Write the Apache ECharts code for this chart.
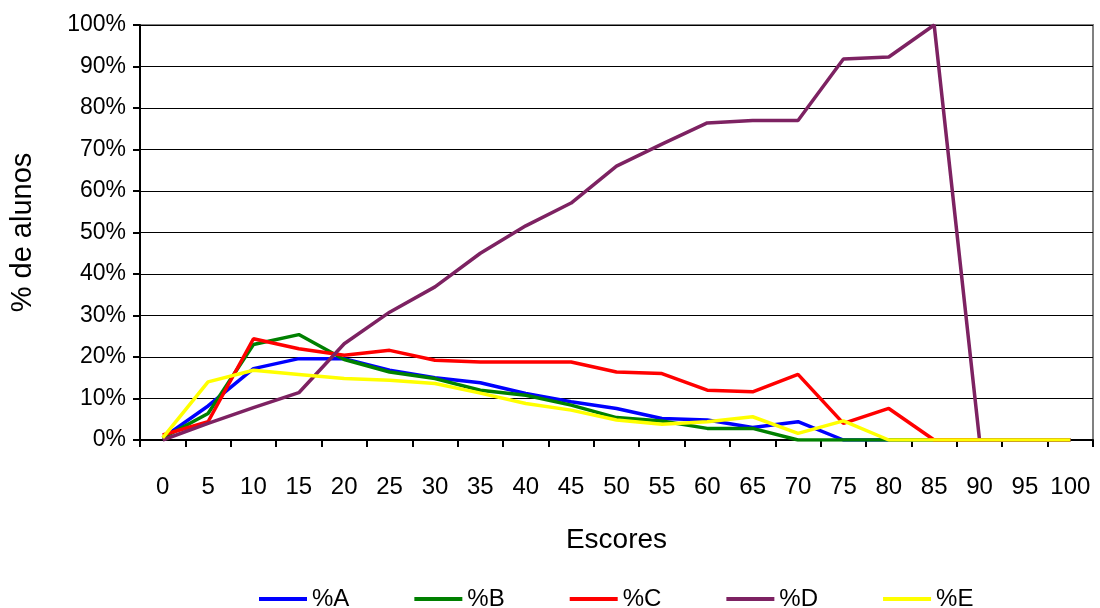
<!DOCTYPE html>
<html>
<head>
<meta charset="utf-8">
<title>% de alunos por escore</title>
<script src="https://cdn.jsdelivr.net/npm/echarts@6/dist/echarts.min.js"></script>
<style>
  html, body {
    margin: 0;
    padding: 0;
    background: #fff;
  }
  #chart {
    width: 1100px;
    height: 608px;
  }
</style>
</head>
<body>
<div id="chart"></div>
<script>
// escores (eixo x)
const escores = ['0', '5', '10', '15', '20', '25', '30', '35', '40', '45', '50',
  '55', '60', '65', '70', '75', '80', '85', '90', '95', '100']

// % de alunos por grupo
const pctA = [0.5, 8.2, 17.2, 19.6, 19.6, 16.8, 15.0, 13.8, 11.2, 9.2, 7.6, 5.2, 4.8, 3.0, 4.4, 0, 0, 0, 0, 0, 0]
const pctB = [0.5, 6.4, 23.0, 25.4, 19.4, 16.4, 14.8, 12.0, 10.8, 8.4, 5.4, 4.6, 2.8, 2.8, 0, 0, 0, 0, 0, 0, 0]
const pctC = [1.2, 4.4, 24.4, 22.0, 20.4, 21.6, 19.2, 18.8, 18.8, 18.8, 16.4, 16.0, 12.0, 11.6, 15.8, 4.0, 7.6, 0, 0, 0, 0]
const pctD = [0, 4.0, 7.8, 11.4, 23.2, 30.8, 36.9, 45.0, 51.6, 57.1, 66.0, 71.3, 76.4, 77.0, 77.0, 91.8, 92.3, 100, 0, 0, 0]
const pctE = [0.5, 14.0, 16.8, 15.8, 14.8, 14.4, 13.6, 11.3, 8.8, 7.2, 4.8, 3.8, 4.4, 5.6, 1.6, 4.6, 0, 0, 0, 0, 0]

const seriesNames = ['%A', '%B', '%C', '%D', '%E']
const seriesData = [pctA, pctB, pctC, pctD, pctE]
const seriesColors = ['#0000ff', '#008000', '#ff0000', '#7d2262', '#ffff00']

const fontFamily = 'Arial, "Liberation Sans", sans-serif'

const chart = echarts.init(document.getElementById('chart'))

const option = {
  backgroundColor: '#fff',
  animation: false,
  textStyle: {
    fontFamily: fontFamily,
    color: '#000'
  },
  grid: {
    left: 139,
    right: 7,
    top: 25,
    bottom: 168,
    show: true,
    borderColor: '#808080',
    borderWidth: 2
  },
  legend: {
    data: seriesNames,
    left: 259,
    top: 587,
    padding: 0,
    icon: 'rect',
    itemWidth: 48,
    itemHeight: 4,
    itemGap: 65,
    textStyle: {
      fontFamily: fontFamily,
      fontSize: 24,
      color: '#000',
      width: 37
    }
  },
  // eixo x
  xAxis: {
    type: 'category',
    data: escores,
    boundaryGap: true,
    name: 'Escores',
    nameLocation: 'middle',
    nameGap: 86,
    nameTextStyle: {
      fontFamily: fontFamily,
      fontSize: 28,
      color: '#000'
    },
    axisLine: {
      lineStyle: { color: '#000', width: 2 }
    },
    axisTick: {
      show: true,
      length: 7,
      lineStyle: { color: '#000', width: 2 }
    },
    axisLabel: {
      interval: 0,
      margin: 35,
      fontFamily: fontFamily,
      fontSize: 24,
      color: '#000'
    },
    splitLine: { show: false }
  },
  yAxis: {
    type: 'value',
    min: 0,
    max: 100,
    interval: 10,
    name: '% de alunos',
    nameLocation: 'middle',
    nameGap: 103,
    nameRotate: 90,
    nameTextStyle: {
      fontFamily: fontFamily,
      fontSize: 29,
      color: '#000'
    },
    axisLine: {
      show: true,
      lineStyle: { color: '#000', width: 2 }
    },
    axisTick: {
      show: true,
      length: 7,
      lineStyle: { color: '#000', width: 2 }
    },
    axisLabel: {
      margin: 14,
      fontFamily: fontFamily,
      fontSize: 23,
      color: '#000',
      formatter: '{value}%'
    },
    splitLine: {
      show: true,
      lineStyle: { color: '#000', width: 1.2 }
    }
  },
  series: seriesNames.map((name, i) => ({
    name: name,
    type: 'line',
    data: seriesData[i],
    symbol: 'none',
    smooth: false,
    z: 2 + i,
    lineStyle: {
      color: seriesColors[i],
      width: 3.5
    },
    itemStyle: {
      color: seriesColors[i]
    }
  }))
}

chart.setOption(option)
</script>
</body>
</html>
